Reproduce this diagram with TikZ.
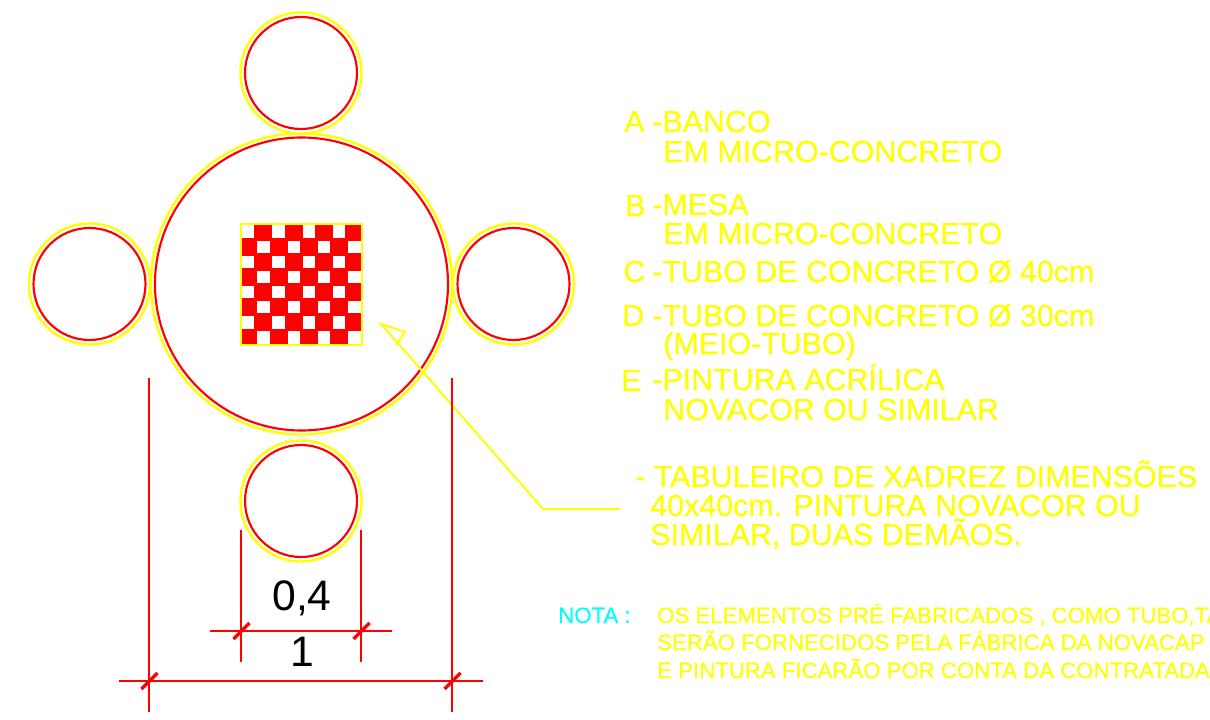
\documentclass[tikz,border=0pt]{standalone}
\usepackage{fontspec}
\setmainfont{Liberation Sans}
\newfontfamily\cadfont[FakeBold=0.25]{Liberation Sans}
\definecolor{cadyellow}{RGB}{255,255,0}
\definecolor{cadred}{RGB}{255,0,0}
\definecolor{cadcyan}{RGB}{0,255,255}
\tikzset{
 px/.style={x=0.75pt,y=-0.75pt},
 yring/.style={draw=cadyellow,line width=1.8pt},
 rring/.style={draw=cadred,line width=1.6pt},
 dimline/.style={draw=cadred,line width=1.4pt},
 tick/.style={draw=cadred,line width=2.6pt},
 leader/.style={draw=cadyellow,line width=1.5pt},
 big/.style={anchor=base west,inner sep=0pt,text=cadyellow,font=\cadfont\fontsize{22.8}{24}\selectfont},
 small/.style={anchor=base west,inner sep=0pt,text=cadyellow,font=\cadfont\fontsize{16.65}{18}\selectfont},
 dimtext/.style={anchor=base,inner sep=0pt,text=black,font=\fontsize{32}{34}\selectfont},
}
\begin{document}
\begin{tikzpicture}[px]
\useasboundingbox (0,0) rectangle (1210,720);
\clip (0,0) rectangle (1210,720);
\fill[white] (0,0) rectangle (1210,720);
% circles
\foreach \cx/\cy in {301/73,89.5/284,513.5/284,301/501}{
 \draw[yring] (\cx,\cy) circle[radius=60.5];
 \draw[rring] (\cx,\cy) circle[radius=56];
}
\draw[yring] (301.5,284) circle[radius=150.5];
\draw[rring] (301.5,284) circle[radius=146.5];
% checkerboard
\fill[cadred] (240.5,224) rectangle (361.5,345);
\foreach \r in {0,...,7}{\foreach \c in {0,...,7}{
 \pgfmathparse{int(mod(\r+\c,2))}
 \ifnum\pgfmathresult=0
  \fill[white] ({242+\c*15.17},{225.5+\r*15.1}) rectangle ++(12.4,12.4);
 \fi
}}
\draw[draw=cadyellow,line width=1.3pt] (241,224) rectangle (362,345);
% leader
\coordinate (tip) at (381,324);
\coordinate (ba) at (405,332);
\coordinate (bb) at (396,345);
\coordinate (knee) at (543,509);
\coordinate (lend) at (620,509);
\draw[leader,line join=miter] (bb) -- (ba) -- (tip) -- (knee) -- (lend);
% dimensions
\coordinate (d1a) at (149,378); \coordinate (d1b) at (149,712);
\coordinate (d2a) at (452,378); \coordinate (d2b) at (452,712);
\coordinate (d3a) at (119,681); \coordinate (d3b) at (483,681);
\coordinate (d4a) at (241,530); \coordinate (d4b) at (241,662);
\coordinate (d5a) at (361,530); \coordinate (d5b) at (361,662);
\coordinate (d6a) at (210,631); \coordinate (d6b) at (392,631);
\draw[dimline] (d1a)--(d1b); \draw[dimline] (d2a)--(d2b); \draw[dimline] (d3a)--(d3b);
\draw[dimline] (d4a)--(d4b); \draw[dimline] (d5a)--(d5b); \draw[dimline] (d6a)--(d6b);
\foreach \tx/\ty in {149/681,452/681,241/631,361/631}{
 \draw[tick] (\tx-7.5,\ty+8) -- (\tx+8.5,\ty-8);
}
\node[dimtext] (t04) at (302,610.5) {0,4};
\node[dimtext] (t1) at (302,666) {1};
% legend
\node[big] (la) at (624,132) {A};
\node[big] (lad) at (652,132) {-BANCO};
\node[big] (la2) at (663,162) {EM MICRO-CONCRETO};
\node[big] (lb) at (625,216) {B};
\node[big] (lbd) at (652,215) {-MESA};
\node[big] (lb2) at (663,244) {EM MICRO-CONCRETO};
\node[big] (lc) at (623,282) {C};
\node[big] (lcd) at (652,282) {-TUBO DE CONCRETO Ø 40cm};
\node[big] (ld) at (622,326) {D};
\node[big] (ldd) at (652,326) {-TUBO DE CONCRETO Ø 30cm};
\node[big] (ld2) at (663,354) {(MEIO-TUBO)};
\node[big] (le) at (621,391) {E};
\node[big] (led) at (652,390) {-PINTURA ACRÍLICA};
\node[big] (le2) at (663,420) {NOVACOR OU SIMILAR};
% note board
\node[big] (n1) at (635,487) {- TABULEIRO DE XADREZ DIMENSÕES};
\node[big] (n2) at (650,516) {40x40cm. PINTURA NOVACOR OU};
\node[big] (n3) at (650,545) {SIMILAR, DUAS DEMÃOS.};
% nota
\node[small,text=cadcyan] (nt) at (558,623) {NOTA :};
\node[small] (nt1) at (657,623) {OS ELEMENTOS PRÉ FABRICADOS , COMO TUBO,TA};
\node[small] (nt2) at (657,650) {SERÃO FORNECIDOS PELA FÁBRICA DA NOVACAP};
\node[small] (nt3) at (657,678) {E PINTURA FICARÃO POR CONTA DA CONTRATADA};
\end{tikzpicture}
\end{document}
